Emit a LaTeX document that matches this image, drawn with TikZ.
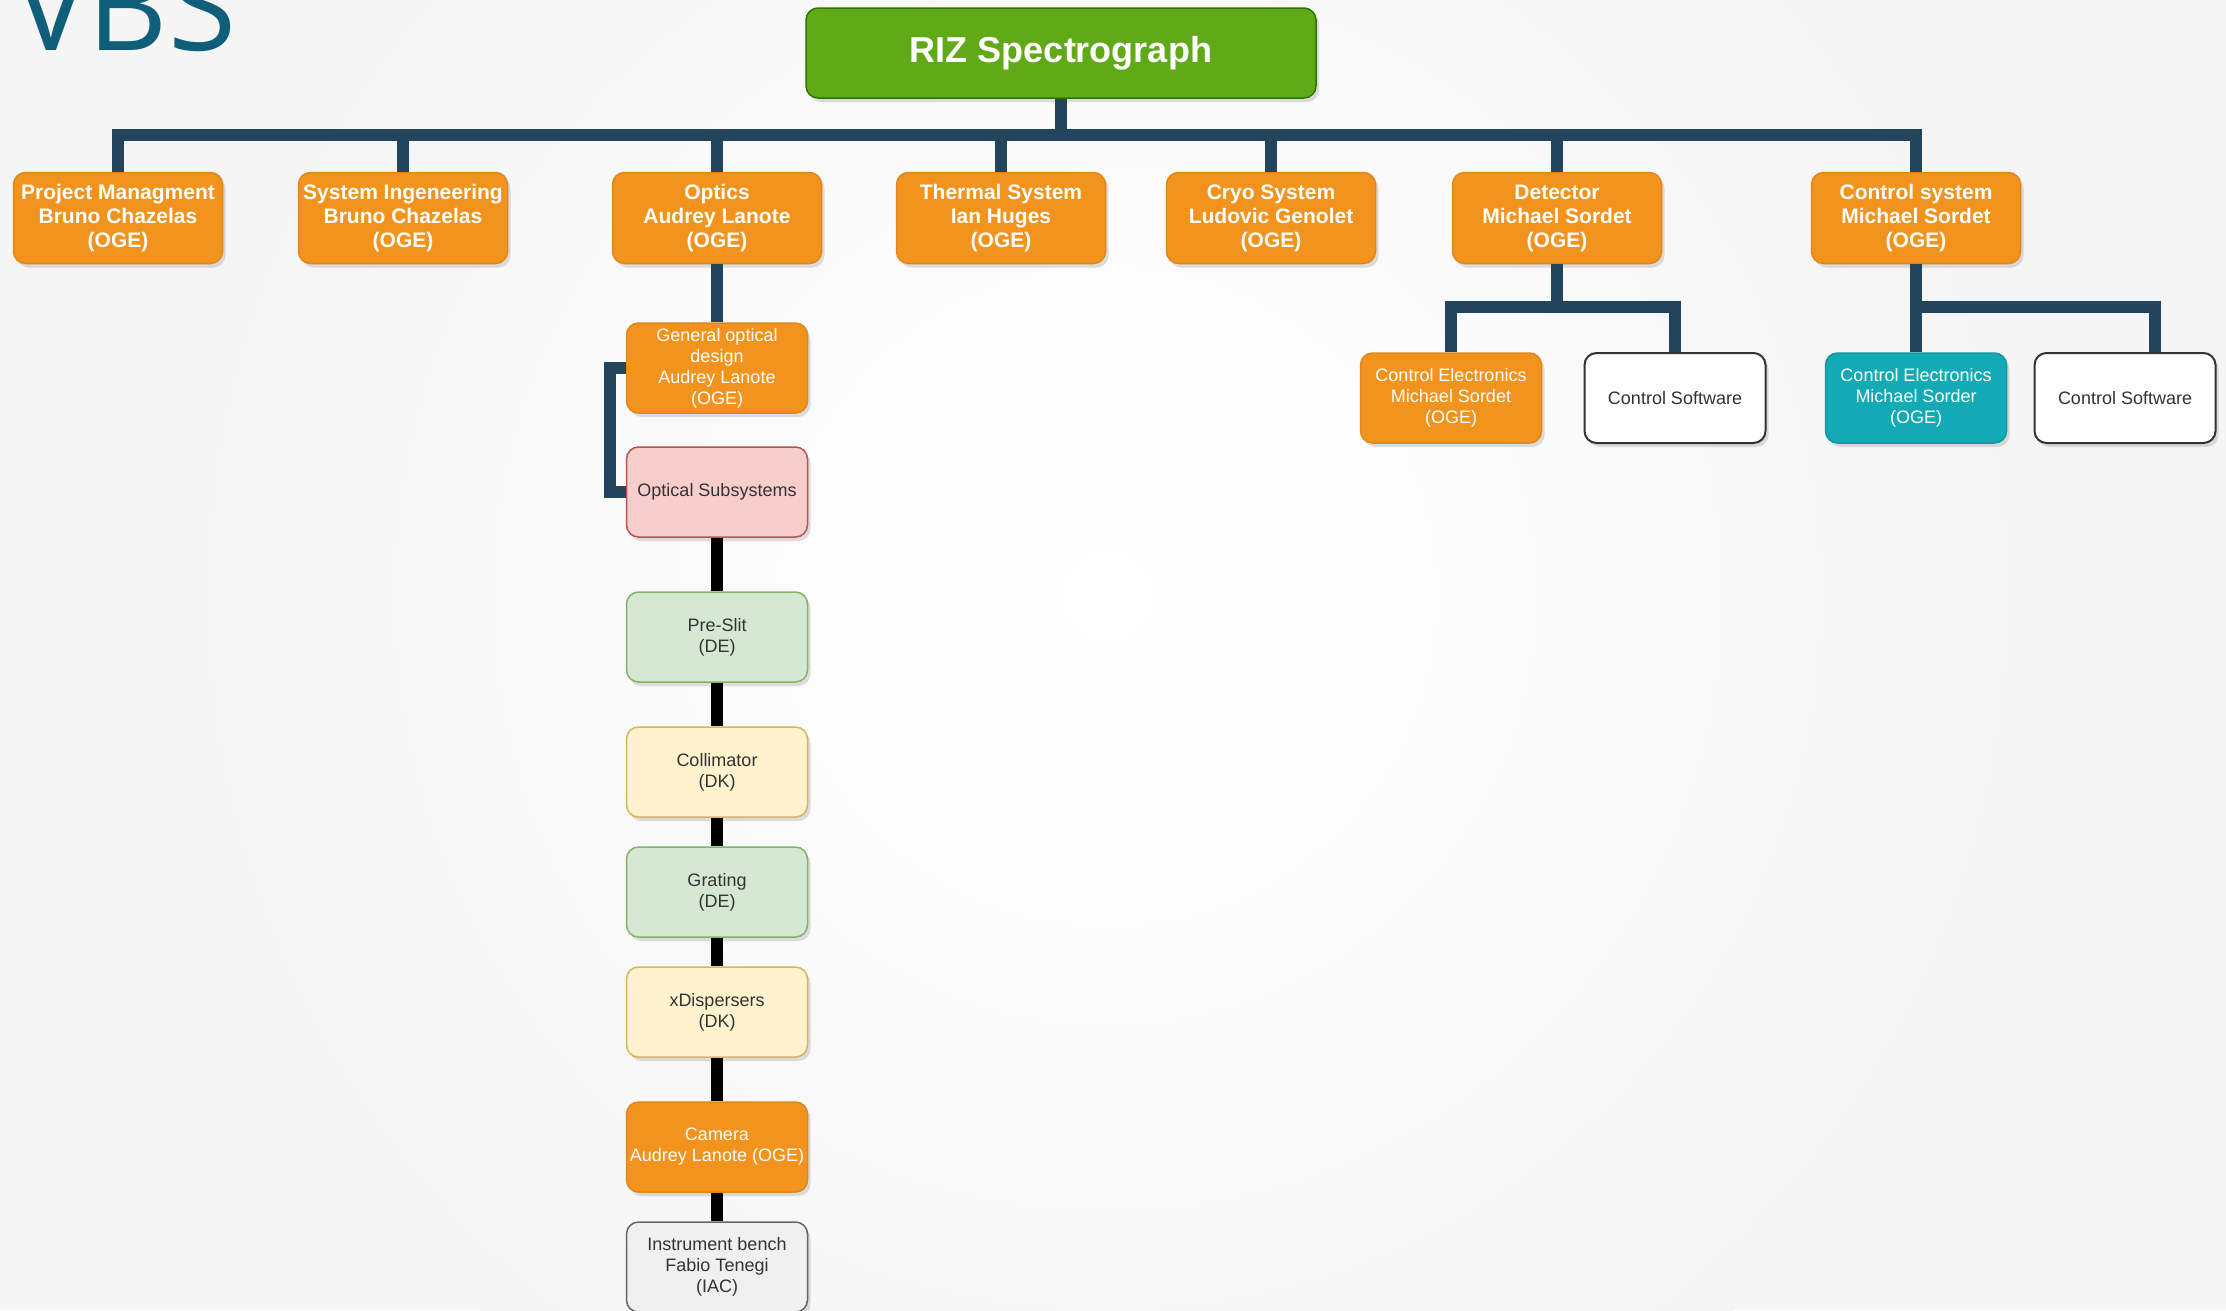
\documentclass[tikz,border=0pt]{standalone}
\usepackage{fontspec}
\setmainfont{Liberation Sans}
\newfontfamily\titlefont{Open Sans}
\usetikzlibrary{shadows}
\definecolor{bggray}{HTML}{F5F5F5}
\definecolor{wbsteal}{HTML}{0F5F7A}
\definecolor{wbsblue}{HTML}{23445D}
\definecolor{wbsorange}{HTML}{F2931E}
\definecolor{rizgreen}{HTML}{60A917}
\definecolor{rizdark}{HTML}{2D7600}
\definecolor{wbstext}{HTML}{333333}

\begin{document}
\begin{tikzpicture}[x=1pt,y=-1pt,
  box/.style={rounded corners=12pt,inner sep=1pt,align=center,line width=1.5pt,
    drop shadow={shadow xshift=3pt,shadow yshift=-4pt,opacity=.25}},
  lead/.style={box,minimum width=209pt,minimum height=91pt,fill=wbsorange,draw=wbsorange!92!black,
    text=white,font=\fontsize{21}{24}\selectfont\bfseries},
  task/.style={box,minimum width=181pt,minimum height=90pt,text=wbstext,font=\fontsize{18}{21}\selectfont},
  orangebox/.style={fill=wbsorange,draw=wbsorange!92!black,text=white},
  tealbox/.style={fill={rgb,255:red,18;green,170;blue,181},draw={rgb,255:red,16;green,150;blue,160},text=white},
  pinkbox/.style={fill={rgb,255:red,248;green,206;blue,204},draw={rgb,255:red,184;green,84;blue,80}},
  greenbox/.style={fill={rgb,255:red,213;green,232;blue,212},draw={rgb,255:red,130;green,179;blue,102}},
  yellowbox/.style={fill={rgb,255:red,255;green,242;blue,204},draw={rgb,255:red,214;green,182;blue,86}},
  greybox/.style={fill={rgb,255:red,240;green,240;blue,240},draw={rgb,255:red,102;green,102;blue,102}},
  whitebox/.style={fill=white,draw=wbstext,line width=2pt},
  bluelink/.style={wbsblue,line width=12pt},
  blacklink/.style={black,line width=12pt}]
  \clip (0,0) rectangle (2226,1310);
  \fill[bggray] (0,0) rectangle (2226,1310);
  \shade[inner color=white,outer color=bggray] (1107,596) circle (950pt);
  \node[anchor=base west,inner sep=0pt,text=wbsteal,font=\titlefont\fontsize{124}{124}\selectfont] (title) at (14,50) {VBS};

  \node[box,minimum width=510pt,minimum height=90pt,fill=rizgreen,draw=rizdark,text=white,
    font=\fontsize{36}{40}\selectfont\bfseries] (riz) at (1061,53) {RIZ Spectrograph};
  \foreach \n/\x/\t in {pm/118/{Project Managment\\Bruno Chazelas\\(OGE)},si/403/{System Ingeneering\\Bruno Chazelas\\(OGE)},op/717/{Optics\\Audrey Lanote\\(OGE)},th/1001/{Thermal System\\Ian Huges\\(OGE)},cr/1271/{Cryo System\\Ludovic Genolet\\(OGE)},de/1557/{Detector\\Michael Sordet\\(OGE)},cs/1916/{Control system\\Michael Sordet\\(OGE)}}
    \node[lead] (\n) at (\x,218) {\t};
  \foreach \n/\y/\s/\t in {god/368/orangebox/{General optical\\design\\Audrey Lanote\\(OGE)},osub/492/pinkbox/{Optical Subsystems},pre/637/greenbox/{Pre-Slit\\(DE)},col/772/yellowbox/{Collimator\\(DK)},gra/892/greenbox/{Grating\\(DE)},xd/1012/yellowbox/{xDispersers\\(DK)},cam/1147/orangebox/{Camera\\Audrey Lanote (OGE)},ben/1267/greybox/{Instrument bench\\Fabio Tenegi\\(IAC)}}
    \node[task,\s] (\n) at (717,\y) {\t};
  \node[task,orangebox] (ce1) at (1451,398) {Control Electronics\\Michael Sordet\\(OGE)};
  \node[task,whitebox] (sw1) at (1675,398) {Control Software};
  \node[task,tealbox] (ce2) at (1916,398) {Control Electronics\\Michael Sorder\\(OGE)};
  \node[task,whitebox] (sw2) at (2125,398) {Control Software};

  \coordinate (bus) at (0,135);
  \coordinate (hy) at (0,307);
  \draw[bluelink] (riz.south) -- (riz.south |- bus);
  \draw[bluelink] (pm.north) |- (bus -| cs) -- (cs.north);
  \foreach \n in {si,op,th,cr,de}
    \draw[bluelink] (\n.north) -- (\n.north |- bus);
  \draw[bluelink] (op.south) -- (god.north);
  \draw[bluelink] (god.west) -- ++(-16,0) |- (osub.west);
  \foreach \a/\b in {osub/pre,pre/col,col/gra,gra/xd,xd/cam,cam/ben}
    \draw[blacklink] (\a.south) -- (\b.north);
  \draw[bluelink] (de.south) -- (de.south |- hy);
  \draw[bluelink] (ce1.north) |- (hy -| sw1) -- (sw1.north);
  \draw[bluelink] (cs.south) -- (ce2.north);
  \draw[bluelink] (cs.south |- hy) -| ([xshift=30pt]sw2.north);
\end{tikzpicture}
\end{document}
